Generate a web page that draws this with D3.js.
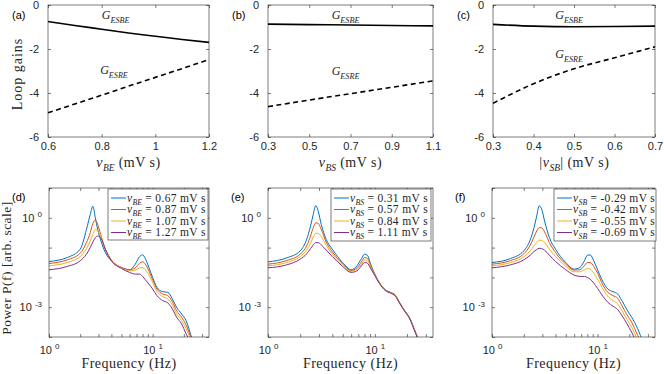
<!DOCTYPE html>
<html><head><meta charset="utf-8">
<script src="https://cdn.jsdelivr.net/npm/d3@7"></script>
<style>body{margin:0;background:#fff} svg{display:block} text{white-space:pre}</style>
</head><body><svg id="c" width="664" height="374"></svg>
<script>
// ---------------- DATA ----------------
// Top row: loop gains vs parameter
const topXA = [0.6, 0.7, 0.8, 0.9, 1.0, 1.1, 1.2];
const gesbeA = [-0.75, -0.93, -1.10, -1.27, -1.42, -1.57, -1.70];
const gesreA = [-4.90, -4.50, -4.10, -3.69, -3.29, -2.89, -2.48];

const topXB = [0.3, 0.5, 0.7, 0.9, 1.1];
const gesbeB = [-0.87, -0.89, -0.91, -0.93, -0.95];
const gesreB = [-4.62, -4.32, -4.03, -3.74, -3.45];

const topXC = [0.3, 0.4, 0.5, 0.6, 0.7];
const gesbeC = [-0.88, -0.96, -0.99, -0.98, -0.96];
const gesreC = [-4.47, -3.58, -2.90, -2.40, -1.90];

const topXDomains = [[0.6, 1.2], [0.3, 1.1], [0.3, 0.7]];
const topXTicks = [[0.6, 0.8, 1, 1.2], [0.3, 0.5, 0.7, 0.9, 1.1], [0.3, 0.4, 0.5, 0.6, 0.7]];
const topYTicks = [-6, -4, -2, 0];
const topXLabels = [["ν", "BE"], ["ν", "BS"], ["|ν", "SB", "|"]];
const topPanelLetters = ["(a)", "(b)", "(c)"];

// Bottom row: power spectra (log10 of power), sampled at these frequencies (Hz)
const freq = [1, 1.5, 2, 2.3, 2.5, 2.65, 2.8, 2.95, 3.15, 3.5, 4, 5, 6, 6.8, 7.5, 8, 8.5, 9.2, 10, 11, 12.5, 14, 15.5, 17, 19, 21, 24, 27, 30];

const logPowD = [
  [-1.467,-1.333,-1.056,-0.389,0.111,0.389,0.0,-0.389,-0.744,-1.167,-1.444,-1.667,-1.744,-1.556,-1.3,-1.244,-1.367,-1.667,-2.0,-2.333,-2.478,-2.5,-2.722,-3.0,-3.222,-3.444,-4.056,-4.5,-4.8],
  [-1.533,-1.411,-1.189,-0.833,-0.5,-0.189,-0.078,-0.222,-0.556,-1.056,-1.411,-1.667,-1.744,-1.678,-1.522,-1.478,-1.556,-1.778,-2.078,-2.389,-2.556,-2.611,-2.811,-3.111,-3.333,-3.589,-4.11,-4.5,-4.8],
  [-1.611,-1.5,-1.3,-1.033,-0.778,-0.556,-0.389,-0.444,-0.611,-1.056,-1.411,-1.678,-1.778,-1.756,-1.678,-1.667,-1.744,-1.922,-2.167,-2.478,-2.644,-2.722,-2.922,-3.222,-3.444,-3.722,-4.17,-4.6,-4.9],
  [-1.744,-1.633,-1.444,-1.222,-1.0,-0.811,-0.667,-0.611,-0.667,-1.056,-1.444,-1.7,-1.833,-1.889,-1.889,-1.967,-2.078,-2.222,-2.389,-2.611,-2.778,-2.856,-3.056,-3.333,-3.556,-3.889,-4.28,-4.7,-5.0]
];
const logPowE = [
  [-1.478,-1.344,-1.111,-0.722,-0.278,0.111,0.411,0.222,-0.222,-0.722,-1.056,-1.5,-1.744,-1.611,-1.367,-1.222,-1.256,-1.589,-1.889,-2.167,-2.411,-2.5,-2.589,-2.833,-3.111,-3.333,-3.833,-4.28,-4.6],
  [-1.556,-1.433,-1.222,-0.944,-0.611,-0.333,-0.167,-0.189,-0.389,-0.811,-1.144,-1.533,-1.767,-1.678,-1.478,-1.333,-1.356,-1.633,-1.9,-2.175,-2.42,-2.51,-2.6,-2.845,-3.12,-3.345,-3.845,-4.29,-4.6],
  [-1.611,-1.5,-1.3,-1.078,-0.856,-0.644,-0.522,-0.522,-0.633,-0.922,-1.222,-1.578,-1.8,-1.722,-1.556,-1.411,-1.433,-1.667,-1.922,-2.185,-2.43,-2.52,-2.61,-2.855,-3.13,-3.355,-3.855,-4.3,-4.6],
  [-1.678,-1.578,-1.389,-1.211,-1.033,-0.911,-0.833,-0.833,-0.911,-1.078,-1.3,-1.633,-1.833,-1.778,-1.611,-1.5,-1.522,-1.722,-1.944,-2.2,-2.44,-2.53,-2.62,-2.865,-3.14,-3.365,-3.87,-4.3,-4.6]
];
const logPowF = [
  [-1.5,-1.367,-1.111,-0.744,-0.333,0.056,0.40,0.30,-0.111,-0.667,-1.056,-1.5,-1.722,-1.667,-1.444,-1.256,-1.244,-1.444,-1.744,-2.078,-2.389,-2.478,-2.556,-2.778,-3.089,-3.333,-3.722,-4.17,-4.5],
  [-1.556,-1.433,-1.211,-0.922,-0.644,-0.444,-0.333,-0.333,-0.478,-0.833,-1.167,-1.556,-1.756,-1.744,-1.611,-1.5,-1.5,-1.633,-1.856,-2.189,-2.5,-2.611,-2.7,-2.944,-3.256,-3.5,-3.944,-4.3,-4.6],
  [-1.611,-1.5,-1.311,-1.111,-0.944,-0.833,-0.756,-0.756,-0.833,-1.056,-1.3,-1.633,-1.811,-1.811,-1.744,-1.7,-1.722,-1.856,-2.056,-2.333,-2.633,-2.778,-2.889,-3.111,-3.411,-3.667,-4.11,-4.5,-4.8],
  [-1.678,-1.578,-1.411,-1.256,-1.133,-1.067,-1.022,-1.033,-1.089,-1.256,-1.467,-1.744,-1.922,-1.967,-1.967,-2.0,-2.056,-2.189,-2.367,-2.589,-2.833,-2.967,-3.078,-3.278,-3.556,-3.833,-4.28,-4.7,-5.0]
];

const legendD = ["0.67", "0.87", "1.07", "1.27"];
const legendE = ["0.31", "0.57", "0.84", "1.11"];
const legendF = ["-0.29", "-0.42", "-0.55", "-0.69"];
const legendSubs = ["BE", "BS", "SB"];
const bottomPanelLetters = ["(d)", "(e)", "(f)"];
const freqDomain = [1, 35];
const powDomain = [1e-4, 1e1];
const freqTicks = [1, 2, 3, 4, 5, 6, 7, 8, 9, 10, 20, 30];
const powTicks = [1e-4, 1e-3, 1e-2, 1e-1, 1, 10];
const powLabeled = [1e-3, 1];

const seriesColors = ["#0072BD", "#D95319", "#EDB120", "#7E2F8E"];

// ---------------- LAYOUT ----------------
const svg = d3.select("#c");
const sans = "'Liberation Sans', Arial, Helvetica, sans-serif";
const serif = "'Liberation Serif', 'Times New Roman', serif";
const ink = "#262626";

const topBoxes = [[48, 209], [268, 433], [493, 655]];
const topY = [137, 5];
const botBoxes = [[49, 209], [268, 433], [492, 655]];
const botY = [337, 188];

function rich(parent, x, y, parts, anchor, size, spacing) {
  const t = parent.append("text").attr("x", x).attr("y", y)
    .attr("text-anchor", anchor).attr("font-family", serif)
    .attr("font-size", size).attr("fill", ink)
    .attr("letter-spacing", spacing || 0);
  let shift = 0;
  parts.forEach(p => {
    const s = t.append("tspan").text(p.t);
    if (p.it) s.attr("font-style", "italic");
    const target = p.sub ? size * 0.3 : 0;
    if (target - shift !== 0) s.attr("dy", target - shift);
    shift = target;
    if (p.sub) s.attr("font-size", size * 0.68).attr("letter-spacing", 0);
  });
  return t;
}

function styleAxis(g) {
  g.select(".domain").remove();
  g.selectAll(".tick line").attr("stroke", ink).attr("stroke-width", 0.6);
  g.selectAll(".tick text").attr("fill", ink).attr("font-family", sans).attr("font-size", 11);
}

// ---------- TOP ROW ----------
const topData = [
  [topXA, gesbeA, gesreA],
  [topXB, gesbeB, gesreB],
  [topXC, gesbeC, gesreC]
];
const gLabelPos = [
  [[0.42, -0.45], [0.41, -2.95]],
  [[0.47, -0.45], [0.47, -3.0]],
  [[0.47, -0.45], [0.47, -2.23]]
];

topData.forEach((d, i) => {
  const [x0, x1] = topBoxes[i];
  const xs = d3.scaleLinear().domain(topXDomains[i]).range([x0, x1]);
  const ys = d3.scaleLinear().domain([-6, 0]).range(topY);
  const g = svg.append("g");

  g.append("g").attr("transform", `translate(0,${topY[0]})`)
    .call(d3.axisBottom(xs).tickValues(topXTicks[i]).tickSize(-3).tickPadding(5).tickFormat(d3.format("")))
    .call(styleAxis);
  g.append("g").attr("transform", `translate(0,${topY[1]})`)
    .call(d3.axisTop(xs).tickValues(topXTicks[i]).tickSize(-3).tickFormat(""))
    .call(styleAxis);
  g.append("g").attr("transform", `translate(${x0},0)`)
    .call(d3.axisLeft(ys).tickValues(topYTicks).tickSize(-3).tickPadding(9).tickFormat(d3.format("")))
    .call(styleAxis);
  g.append("g").attr("transform", `translate(${x1},0)`)
    .call(d3.axisRight(ys).tickValues(topYTicks).tickSize(-3).tickFormat(""))
    .call(styleAxis);
  g.selectAll("text").filter(function(){return this.textContent.startsWith("−");})
    .text(function(){return this.textContent.replace("−","-");});

  g.append("rect").attr("x", x0).attr("y", topY[1]).attr("width", x1 - x0).attr("height", topY[0] - topY[1])
    .attr("fill", "none").attr("stroke", ink).attr("stroke-width", 0.6);

  const line = d3.line().x((v, k) => xs(d[0][k])).y(v => ys(v)).curve(d3.curveMonotoneX);
  g.append("path").attr("d", line(d[1])).attr("fill", "none").attr("stroke", "#000").attr("stroke-width", 1.6);
  g.append("path").attr("d", line(d[2])).attr("fill", "none").attr("stroke", "#000").attr("stroke-width", 1.6)
    .attr("stroke-dasharray", "5,3.5");

  const dom = topXDomains[i];
  const lx = f => xs(dom[0] + f * (dom[1] - dom[0]));
  rich(g, lx(gLabelPos[i][0][0]), ys(gLabelPos[i][0][1]) + 4, [{t: "G", it: 1}, {t: "ESBE", it: 1, sub: 1}], "middle", 12);
  rich(g, lx(gLabelPos[i][1][0]), ys(gLabelPos[i][1][1]) + 4, [{t: "G", it: 1}, {t: "ESRE", it: 1, sub: 1}], "middle", 12);

  // x label
  const xl = topXLabels[i];
  const parts = [{t: xl[0], it: 1}, {t: xl[1], it: 1, sub: 1}];
  if (xl[2]) parts.push({t: xl[2]});
  parts.push({t: " (mV s)"});
  rich(g, (x0 + x1) / 2, 167, parts, "middle", 14, 0.5);

  g.append("text").attr("x", x0 - 36).attr("y", 19).attr("font-family", sans).attr("font-size", 11)
    .attr("fill", "#000").text(topPanelLetters[i]);
});

svg.append("text").attr("transform", "translate(22,74) rotate(-90)").attr("text-anchor", "middle")
  .attr("font-family", serif).attr("font-size", 14).attr("letter-spacing", 1).attr("fill", ink).text("Loop gains");

// ---------- BOTTOM ROW ----------
const botData = [logPowD, logPowE, logPowF];
const legendVals = [legendD, legendE, legendF];
const legendBoxes = [[108, 189, 208, 240], [331, 189, 431, 241], [554, 189, 656, 241]];

botData.forEach((series, i) => {
  const [x0, x1] = botBoxes[i];
  const xs = d3.scaleLog().domain(freqDomain).range([x0, x1]);
  const ys = d3.scaleLog().domain(powDomain).range(botY);
  const g = svg.append("g");

  const supFmt = (sel, labeled) => {
    sel.selectAll(".tick").each(function(v) {
      const t = d3.select(this).select("text");
      if (!labeled(v)) { t.remove(); return; }
      t.text("");
      const e = Math.round(Math.log10(v));
      t.append("tspan").text("10 ");
      t.append("tspan").attr("dy", "-0.55em").attr("font-size", 8).text(e < 0 ? "-" + (-e) : String(e));
    });
  };

  g.append("g").attr("transform", `translate(0,${botY[0]})`)
    .call(d3.axisBottom(xs).tickValues(freqTicks).tickSize(-3).tickPadding(9))
    .call(styleAxis).call(s => supFmt(s, v => v === 1 || v === 10));
  g.append("g").attr("transform", `translate(0,${botY[1]})`)
    .call(d3.axisTop(xs).tickValues(freqTicks).tickSize(-3).tickFormat(""))
    .call(styleAxis);
  g.append("g").attr("transform", `translate(${x0},0)`)
    .call(d3.axisLeft(ys).tickValues(powTicks).tickSize(-3).tickPadding(7))
    .call(styleAxis).call(s => supFmt(s, v => powLabeled.some(p => Math.abs(p - v) < 1e-12)));
  g.append("g").attr("transform", `translate(${x1},0)`)
    .call(d3.axisRight(ys).tickValues(powTicks).tickSize(-3).tickFormat(""))
    .call(styleAxis);

  const clipId = "clip" + i;
  svg.append("clipPath").attr("id", clipId).append("rect")
    .attr("x", x0).attr("y", botY[1]).attr("width", x1 - x0).attr("height", botY[0] - botY[1]);

  const line = d3.line().x((v, k) => xs(freq[k])).y(v => ys(Math.pow(10, v))).curve(d3.curveMonotoneX);
  const cg = g.append("g").attr("clip-path", `url(#${clipId})`);
  series.forEach((s, k) => {
    cg.append("path").attr("d", line(s)).attr("fill", "none")
      .attr("stroke", seriesColors[k]).attr("stroke-width", 1);
  });

  g.append("rect").attr("x", x0).attr("y", botY[1]).attr("width", x1 - x0).attr("height", botY[0] - botY[1])
    .attr("fill", "none").attr("stroke", ink).attr("stroke-width", 0.6);

  // legend
  const [lx0, ly0, lx1, ly1] = legendBoxes[i];
  g.append("rect").attr("x", lx0).attr("y", ly0).attr("width", lx1 - lx0).attr("height", ly1 - ly0)
    .attr("fill", "#fff").attr("stroke", ink).attr("stroke-width", 0.6);
  legendVals[i].forEach((v, k) => {
    const yy = ly0 + 9 + k * 11.5;
    g.append("line").attr("x1", lx0 + 3).attr("x2", lx0 + 18).attr("y1", yy).attr("y2", yy)
      .attr("stroke", seriesColors[k]).attr("stroke-width", 1);
    rich(g, lx0 + 19, yy + 3.5, [{t: "ν", it: 1}, {t: legendSubs[i], it: 1, sub: 1}, {t: " = " + v + " mV s"}], "start", 11.5, 0.35);
  });

  rich(g, (x0 + x1) / 2, 368, [{t: "Frequency (Hz)"}], "middle", 14, 0.5);

  g.append("text").attr("x", x0 - 37).attr("y", 201).attr("font-family", sans).attr("font-size", 11)
    .attr("fill", "#000").text(bottomPanelLetters[i]);
});

svg.append("text").attr("transform", "translate(11,268) rotate(-90)").attr("text-anchor", "middle")
  .attr("font-family", serif).attr("font-size", 13.5).attr("letter-spacing", 0.5).attr("fill", ink).text("Power P(f) [arb. scale]");
</script></body></html>
